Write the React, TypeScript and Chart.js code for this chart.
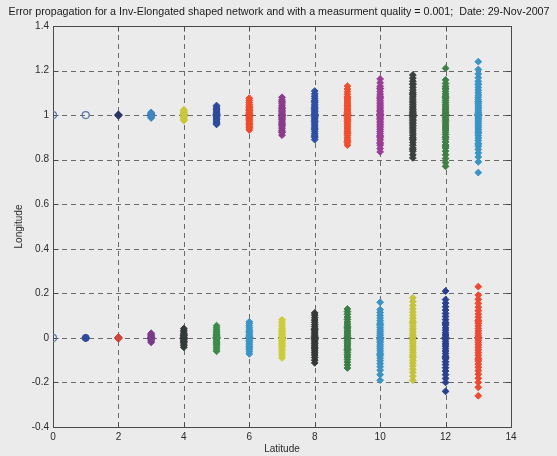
import React, { useEffect, useRef } from "react";
import { Chart, registerables } from "chart.js";

Chart.register(...registerables);

// Station latitudes (one column of estimates per station)
const latitudes = [0, 1, 2, 3, 4, 5, 6, 7, 8, 9, 10, 11, 12, 13];
const xTicks = [0, 2, 4, 6, 8, 10, 12, 14];
const yTicks = [-0.4, -0.2, 0, 0.2, 0.4, 0.6, 0.8, 1, 1.2, 1.4];
const trueUpper = 1;
const trueLower = 0;

// Estimated longitudes of the upper row of stations (true longitude 1)
const upperLongitudes: number[][] = [
  [1.0],
  [1.0],
  [0.997, 1.0, 1.003, 1.001, 0.999],
  [0.99, 0.994, 0.997, 1.0, 1.003, 1.006, 1.009, 1.012, 0.987, 1.001],
  [0.975, 0.982, 0.988, 0.993, 0.997, 1.0, 1.004, 1.008, 1.013, 1.018, 1.024, 0.979, 1.021, 0.991, 1.011],
  [0.958, 0.966, 0.973, 0.98, 0.986, 0.991, 0.995, 0.999, 1.003, 1.007, 1.012, 1.018, 1.024, 1.031, 1.038, 1.043, 0.962, 1.027, 0.978],
  [0.933, 0.942, 0.95, 0.957, 0.964, 0.97, 0.976, 0.981, 0.986, 0.991, 0.995, 0.999, 1.003, 1.008, 1.013, 1.019, 1.025, 1.032, 1.04, 1.048, 1.057, 1.066, 1.076, 0.946, 1.036, 0.96, 1.022],
  [0.91, 0.921, 0.93, 0.939, 0.947, 0.954, 0.961, 0.968, 0.974, 0.98, 0.985, 0.99, 0.995, 1.0, 1.005, 1.01, 1.016, 1.022, 1.028, 1.035, 1.042, 1.05, 1.058, 1.068, 1.08, 0.925, 1.062, 0.958, 1.031],
  [0.89, 0.9, 0.91, 0.918, 0.927, 0.935, 0.943, 0.951, 0.958, 0.965, 0.971, 0.977, 0.983, 0.989, 0.994, 0.999, 1.004, 1.009, 1.015, 1.021, 1.027, 1.034, 1.041, 1.049, 1.057, 1.066, 1.075, 1.085, 1.096, 1.108, 0.905, 0.939, 1.062, 1.03],
  [0.865, 0.876, 0.888, 0.898, 0.908, 0.917, 0.926, 0.934, 0.942, 0.95, 0.957, 0.964, 0.971, 0.977, 0.983, 0.989, 0.995, 1.0, 1.006, 1.012, 1.018, 1.024, 1.031, 1.038, 1.046, 1.054, 1.063, 1.072, 1.082, 1.093, 1.105, 1.117, 1.13, 0.882, 0.92, 1.078, 1.042],
  [0.835, 0.85, 0.865, 0.877, 0.889, 0.899, 0.909, 0.918, 0.927, 0.935, 0.943, 0.951, 0.958, 0.965, 0.972, 0.979, 0.985, 0.991, 0.997, 1.003, 1.009, 1.015, 1.021, 1.028, 1.035, 1.042, 1.05, 1.058, 1.066, 1.075, 1.085, 1.095, 1.106, 1.118, 1.13, 1.145, 1.162, 0.871, 0.904, 1.08, 1.12],
  [0.808, 0.822, 0.838, 0.852, 0.865, 0.877, 0.889, 0.9, 0.91, 0.92, 0.929, 0.938, 0.946, 0.954, 0.961, 0.968, 0.975, 0.982, 0.988, 0.994, 1.0, 1.006, 1.012, 1.018, 1.025, 1.032, 1.039, 1.047, 1.055, 1.063, 1.072, 1.081, 1.091, 1.101, 1.112, 1.124, 1.137, 1.152, 1.166, 1.18, 0.845, 0.893, 1.095, 1.14],
  [0.77, 0.787, 0.805, 0.822, 0.838, 0.852, 0.866, 0.879, 0.891, 0.902, 0.913, 0.923, 0.933, 0.942, 0.951, 0.959, 0.967, 0.975, 0.982, 0.989, 0.996, 1.003, 1.01, 1.017, 1.024, 1.032, 1.04, 1.048, 1.057, 1.066, 1.075, 1.085, 1.095, 1.106, 1.117, 1.129, 1.142, 1.158, 1.21, 0.86, 0.9, 1.08, 1.12],
  [0.742, 0.79, 0.812, 0.83, 0.846, 0.86, 0.873, 0.886, 0.897, 0.908, 0.918, 0.928, 0.937, 0.946, 0.954, 0.962, 0.97, 0.978, 0.985, 0.992, 0.999, 1.006, 1.013, 1.02, 1.028, 1.036, 1.044, 1.052, 1.061, 1.07, 1.08, 1.09, 1.101, 1.112, 1.124, 1.137, 1.152, 1.168, 1.185, 1.205, 1.24, 0.87, 0.92, 1.06, 1.14],
];

// Estimated longitudes of the lower row of stations (true longitude 0)
const lowerLongitudes: number[][] = [
  [0],
  [0],
  [-0.004, 0, 0.004, -0.002, 0.002],
  [-0.02, -0.014, -0.009, -0.005, -0.001, 0.003, 0.007, 0.011, 0.016, 0.021],
  [-0.042, -0.034, -0.027, -0.02, -0.014, -0.009, -0.004, 0, 0.004, 0.009, 0.014, 0.02, 0.027, 0.034, 0.042, -0.017, 0.011],
  [-0.06, -0.051, -0.043, -0.035, -0.028, -0.021, -0.015, -0.009, -0.004, 0.001, 0.006, 0.011, 0.017, 0.023, 0.03, 0.038, 0.046, 0.055, -0.024, 0.014],
  [-0.072, -0.062, -0.053, -0.045, -0.037, -0.03, -0.023, -0.017, -0.011, -0.005, 0, 0.005, 0.011, 0.017, 0.024, 0.031, 0.039, 0.047, 0.056, 0.066, 0.072, -0.041, 0.028],
  [-0.09, -0.079, -0.068, -0.058, -0.049, -0.04, -0.032, -0.025, -0.018, -0.011, -0.005, 0.001, 0.007, 0.013, 0.02, 0.027, 0.035, 0.043, 0.052, 0.061, 0.071, 0.081, -0.036, 0.031],
  [-0.112, -0.1, -0.088, -0.077, -0.067, -0.058, -0.049, -0.041, -0.033, -0.026, -0.019, -0.012, -0.006, 0, 0.006, 0.012, 0.019, 0.026, 0.034, 0.042, 0.051, 0.06, 0.07, 0.08, 0.091, 0.102, 0.112, -0.045, 0.038],
  [-0.135, -0.122, -0.109, -0.097, -0.086, -0.076, -0.066, -0.057, -0.048, -0.04, -0.032, -0.024, -0.017, -0.01, -0.003, 0.004, 0.011, 0.018, 0.026, 0.034, 0.043, 0.052, 0.062, 0.072, 0.083, 0.094, 0.106, 0.118, 0.13, -0.052, 0.047],
  [-0.19, -0.165, -0.145, -0.13, -0.116, -0.103, -0.091, -0.08, -0.069, -0.059, -0.049, -0.04, -0.031, -0.022, -0.014, -0.006, 0.002, 0.01, 0.018, 0.027, 0.036, 0.045, 0.055, 0.066, 0.077, 0.089, 0.101, 0.114, 0.127, 0.16, -0.074, 0.06],
  [-0.19, -0.172, -0.155, -0.14, -0.126, -0.113, -0.1, -0.088, -0.076, -0.065, -0.054, -0.044, -0.034, -0.024, -0.015, -0.006, 0.003, 0.012, 0.021, 0.031, 0.041, 0.052, 0.063, 0.075, 0.088, 0.101, 0.115, 0.13, 0.146, 0.163, 0.18, -0.082, 0.07],
  [-0.24, -0.2, -0.182, -0.165, -0.149, -0.134, -0.12, -0.107, -0.094, -0.082, -0.07, -0.059, -0.048, -0.037, -0.027, -0.017, -0.007, 0.003, 0.013, 0.023, 0.034, 0.045, 0.057, 0.069, 0.082, 0.096, 0.11, 0.125, 0.14, 0.156, 0.172, 0.21, -0.088, 0.064],
  [-0.26, -0.222, -0.2, -0.181, -0.163, -0.147, -0.132, -0.118, -0.104, -0.091, -0.078, -0.066, -0.054, -0.043, -0.032, -0.021, -0.011, -0.001, 0.009, 0.02, 0.031, 0.042, 0.054, 0.066, 0.079, 0.093, 0.107, 0.122, 0.138, 0.155, 0.173, 0.192, 0.23, -0.097, 0.075],
];

const upperColors = [
  "#5a74a8", "#5a74a8", "#2b3566", "#3f86c0", "#c9c83a", "#2e4a9a", "#ef4a2a",
  "#8a3c8c", "#2f4fa5", "#f04e2c", "#9b3d95", "#3b3f3d", "#3f7f45", "#3a94c4",
];
const lowerColors = [
  "#5a74a8", "#2f4a9e", "#d0453a", "#7b3a8a", "#35393a", "#3e8a4a", "#3b94c6",
  "#cccc3a", "#353838", "#3b7f47", "#3b93c2", "#c4c43a", "#2a3f8f", "#ec4a33",
];
// Fixed (control) stations are drawn as open circles
const fixedUpper = [0, 1];
const fixedLower = [0];

const TITLE =
  "Error propagation for a Inv-Elongated shaped network and with a measurment quality = 0.001;  Date: 29-Nov-2007";
const FONT = "'Liberation Sans', Arial, Helvetica, sans-serif";

const frame = {
  id: "frame",
  beforeDatasetsDraw(chart: any) {
    const { ctx, chartArea: a, scales } = chart;
    const xs = scales.x;
    const ys = scales.y;
    ctx.save();
    ctx.lineWidth = 1;
    ctx.strokeStyle = "#6a6a6a";
    ctx.setLineDash([5, 4]);
    for (const v of xTicks) {
      const px = Math.round(xs.getPixelForValue(v)) + 0.5;
      if (px <= a.left + 1 || px >= a.right - 1) continue;
      ctx.beginPath();
      ctx.moveTo(px, a.bottom);
      ctx.lineTo(px, a.top);
      ctx.stroke();
    }
    for (const v of yTicks) {
      const py = Math.round(ys.getPixelForValue(v)) + 0.5;
      if (py <= a.top + 1 || py >= a.bottom - 1) continue;
      ctx.beginPath();
      ctx.moveTo(a.left, py);
      ctx.lineTo(a.right, py);
      ctx.stroke();
    }
    ctx.setLineDash([]);
    ctx.strokeStyle = "#4a4a4a";
    const l = Math.round(a.left) + 0.5;
    const r = Math.round(a.right) + 0.5;
    const t = Math.round(a.top) + 0.5;
    const b = Math.round(a.bottom) + 0.5;
    ctx.strokeRect(l, t, r - l, b - t);
    const tl = 5;
    ctx.beginPath();
    for (const v of xTicks) {
      const px = Math.round(xs.getPixelForValue(v)) + 0.5;
      ctx.moveTo(px, b);
      ctx.lineTo(px, b - tl);
      ctx.moveTo(px, t);
      ctx.lineTo(px, t + tl);
    }
    for (const v of yTicks) {
      const py = Math.round(ys.getPixelForValue(v)) + 0.5;
      ctx.moveTo(l, py);
      ctx.lineTo(l + tl, py);
      ctx.moveTo(r, py);
      ctx.lineTo(r - tl, py);
    }
    ctx.stroke();

    // Figure title across the top of the figure
    ctx.fillStyle = "#1a1a1a";
    ctx.font = `10.7px ${FONT}`;
    ctx.textAlign = "center";
    ctx.textBaseline = "middle";
    ctx.fillText(TITLE, 279, 12);
    ctx.restore();
  },
};

function clusterDataset(lat: number, values: number[], color: string, fixed: boolean) {
  return {
    type: "scatter" as const,
    data: values.map((y) => ({ x: lat, y })),
    pointStyle: fixed ? "circle" : "rectRot",
    pointRadius: fixed ? 3.5 : 3.4,
    pointBorderWidth: fixed ? 1.2 : 1,
    pointBackgroundColor: fixed ? "rgba(0,0,0,0)" : color,
    pointBorderColor: color,
    showLine: false,
  };
}

export default function App() {
  const canvasRef = useRef<HTMLCanvasElement | null>(null);

  useEffect(() => {
    const canvas = canvasRef.current;
    if (!canvas) return;

    const datasets: any[] = [];
    latitudes.forEach((lat, i) => {
      datasets.push(clusterDataset(lat, upperLongitudes[i], upperColors[i], fixedUpper.includes(i)));
      datasets.push(clusterDataset(lat, lowerLongitudes[i], lowerColors[i], fixedLower.includes(i)));
    });
    // Lower station at latitude 1 is plotted as a solid dot
    datasets[3].pointStyle = "circle";
    datasets[3].pointBackgroundColor = lowerColors[1];
    datasets[3].pointRadius = 3.5;

    // True station positions marked with a black plus
    const truePoints: { x: number; y: number }[] = [];
    latitudes.forEach((lat, i) => {
      if (!fixedUpper.includes(i)) truePoints.push({ x: lat, y: trueUpper });
      if (!fixedLower.includes(i)) truePoints.push({ x: lat, y: trueLower });
    });
    datasets.push({
      type: "scatter",
      data: truePoints,
      pointStyle: "cross",
      pointRadius: 4,
      pointBorderWidth: 1.2,
      pointBorderColor: "#1c1c24",
      pointBackgroundColor: "#1c1c24",
    });

    const chart = new Chart(canvas, {
      type: "scatter",
      data: { datasets },
      plugins: [frame],
      options: {
        responsive: false,
        animation: false,
        events: [],
        layout: { padding: { left: 0, right: 46, top: 26, bottom: 0 } },
        plugins: {
          legend: { display: false },
          tooltip: { enabled: false },
          title: { display: false },
        },
        scales: {
          x: {
            type: "linear",
            min: 0,
            max: 14,
            grid: { display: false, drawTicks: false },
            border: { display: false },
            afterBuildTicks: (s: any) => {
              s.ticks = xTicks.map((v) => ({ value: v }));
            },
            afterFit: (s: any) => {
              s.height = 29;
            },
            ticks: {
              color: "#2a2a2a",
              padding: 4,
              font: { family: FONT, size: 10 },
              callback: (v: any) => String(v),
            },
            title: {
              display: true,
              text: "Latitude",
              color: "#2a2a2a",
              font: { family: FONT, size: 10 },
              padding: { top: 0, bottom: 1 },
            },
          },
          y: {
            type: "linear",
            min: -0.4,
            max: 1.4,
            grid: { display: false, drawTicks: false },
            border: { display: false },
            afterBuildTicks: (s: any) => {
              s.ticks = yTicks.map((v) => ({ value: v }));
            },
            afterFit: (s: any) => {
              s.width = 53;
            },
            ticks: {
              color: "#2a2a2a",
              padding: 4,
              font: { family: FONT, size: 10 },
              callback: (v: any) => String(Math.round(Number(v) * 10) / 10),
            },
            title: {
              display: true,
              text: "Longitude",
              color: "#2a2a2a",
              font: { family: FONT, size: 10 },
              padding: { top: 13, bottom: 0 },
            },
          },
        },
      },
    });

    return () => chart.destroy();
  }, []);

  return (
    <div
      style={{
        position: "fixed",
        left: 0,
        top: 0,
        width: 557,
        height: 456,
        background: "#ebebeb",
      }}
    >
      <canvas ref={canvasRef} width={557} height={456} style={{ display: "block" }} />
    </div>
  );
}
